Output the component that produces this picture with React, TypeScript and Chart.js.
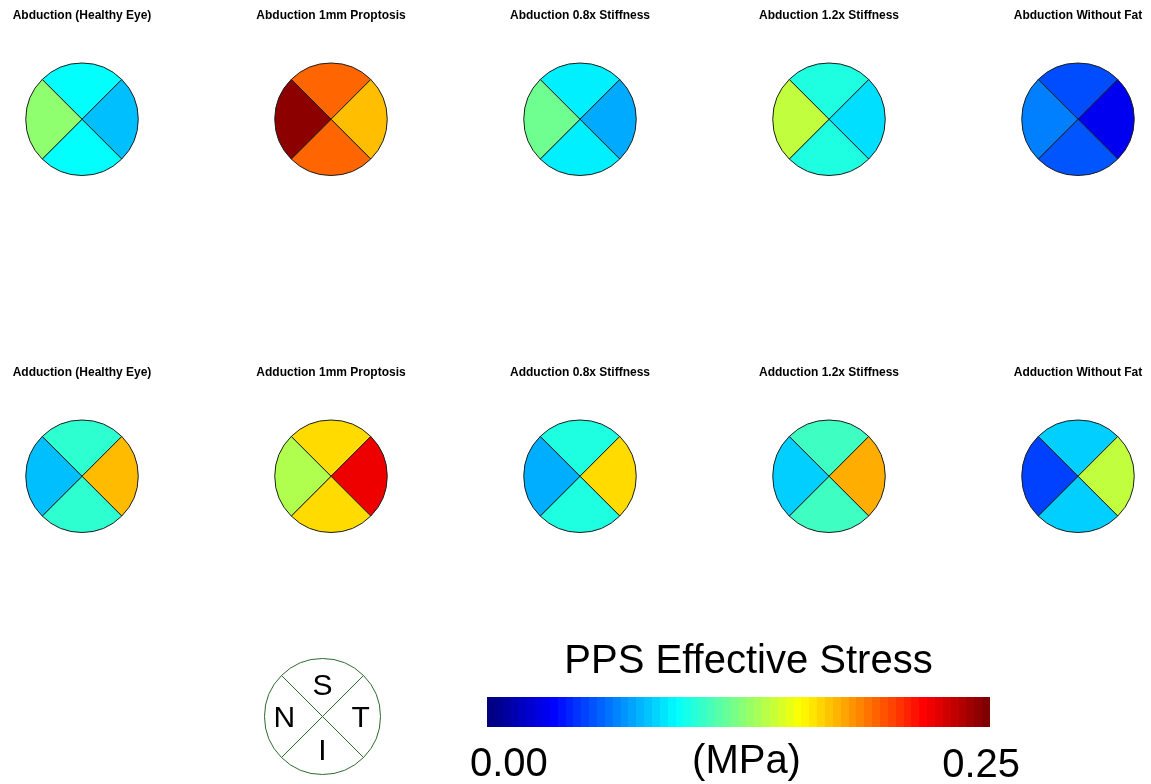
import React, { useEffect, useRef } from 'react';
import { Chart, registerables } from 'chart.js';

Chart.register(...registerables);

const FONT = '"Liberation Sans", Arial, Helvetica, sans-serif';
const STRESS_MIN = 0;
const STRESS_MAX = 0.25;

// Quadrants, clockwise from top: superior, temporal, inferior, nasal
const quadrantLabels = ['S', 'T', 'I', 'N'];
const quadrantShare = [1, 1, 1, 1];

const abductionTitles = [
  'Abduction (Healthy Eye)',
  'Abduction 1mm Proptosis',
  'Abduction 0.8x Stiffness',
  'Abduction 1.2x Stiffness',
  'Abduction Without Fat',
];
const adductionTitles = [
  'Adduction (Healthy Eye)',
  'Adduction 1mm Proptosis',
  'Adduction 0.8x Stiffness',
  'Adduction 1.2x Stiffness',
  'Adduction Without Fat',
];

// PPS effective stress (MPa) per quadrant
const abductionSuperior = [0.094, 0.194, 0.09, 0.101, 0.05];
const abductionTemporal = [0.078, 0.172, 0.073, 0.086, 0.0275];
const abductionInferior = [0.094, 0.194, 0.09, 0.101, 0.052];
const abductionNasal = [0.129, 0.247, 0.121, 0.141, 0.0625];

const adductionSuperior = [0.105, 0.165, 0.101, 0.109, 0.082];
const adductionTemporal = [0.173, 0.223, 0.165, 0.176, 0.141];
const adductionInferior = [0.105, 0.165, 0.101, 0.109, 0.082];
const adductionNasal = [0.078, 0.137, 0.074, 0.082, 0.047];

const colorbarTitle = 'PPS Effective Stress';
const colorbarTickLabels = ['0.00', '(MPa)', '0.25'];
const COLORBAR_LEVELS = 64;

function clamp01(v: number) {
  return Math.max(0, Math.min(1, v));
}
function jet(t: number) {
  const x = clamp01(t);
  const r = clamp01(1.5 - Math.abs(4 * x - 3));
  const g = clamp01(1.5 - Math.abs(4 * x - 2));
  const b = clamp01(1.5 - Math.abs(4 * x - 1));
  return `rgb(${Math.round(r * 255)},${Math.round(g * 255)},${Math.round(b * 255)})`;
}
function stressColor(v: number) {
  return jet((v - STRESS_MIN) / (STRESS_MAX - STRESS_MIN));
}

type BoxProps = { left: number; top: number; width: number; height: number; makeConfig: () => any };

function ChartBox({ left, top, width, height, makeConfig }: BoxProps) {
  const ref = useRef<HTMLCanvasElement>(null);
  useEffect(() => {
    const chart = new Chart(ref.current as HTMLCanvasElement, makeConfig());
    return () => chart.destroy();
  }, []);
  return (
    <canvas
      ref={ref}
      width={width}
      height={height}
      style={{ position: 'absolute', left, top, width, height, display: 'block' }}
    />
  );
}

function pieConfig(title: string, values: number[]) {
  return {
    type: 'pie',
    data: {
      labels: quadrantLabels,
      datasets: [
        {
          data: quadrantShare,
          backgroundColor: values.map(stressColor),
          borderColor: '#1e1e1e',
          borderWidth: 1,
          hoverOffset: 0,
        },
      ],
    },
    options: {
      animation: false,
      responsive: false,
      events: [],
      rotation: -45,
      layout: { padding: 0 },
      plugins: {
        legend: { display: false },
        tooltip: { enabled: false },
        title: {
          display: true,
          text: title,
          color: '#000',
          font: { family: FONT, size: 12, weight: 'bold', lineHeight: 1.2 },
          padding: { top: 8.6, bottom: 39.5 },
        },
      },
    },
  };
}

function legendConfig() {
  return {
    type: 'pie',
    data: {
      labels: quadrantLabels,
      datasets: [
        {
          data: quadrantShare,
          backgroundColor: '#ffffff',
          borderColor: '#2f6a2f',
          borderWidth: 1,
          hoverOffset: 0,
        },
      ],
    },
    options: {
      animation: false,
      responsive: false,
      events: [],
      rotation: -45,
      layout: { padding: 0 },
      plugins: { legend: { display: false }, tooltip: { enabled: false } },
    },
    plugins: [
      {
        id: 'quadrantText',
        afterDatasetsDraw(chart: any) {
          const meta = chart.getDatasetMeta(0);
          const ctx = chart.ctx;
          ctx.save();
          ctx.fillStyle = '#000';
          ctx.font = `30px ${FONT}`;
          ctx.textAlign = 'center';
          ctx.textBaseline = 'alphabetic';
          meta.data.forEach((arc: any, i: number) => {
            const p = arc.getProps(['x', 'y', 'startAngle', 'endAngle', 'outerRadius'], true);
            const mid = (p.startAngle + p.endAngle) / 2;
            const x = p.x + Math.cos(mid) * p.outerRadius * 0.66;
            const y = p.y + Math.sin(mid) * p.outerRadius * 0.56;
            ctx.fillText(quadrantLabels[i], x, y + 30 * 0.716 / 2);
          });
          ctx.restore();
        },
      },
    ],
  };
}

function colorbarConfig() {
  return {
    type: 'bar',
    data: {
      labels: ['stress'],
      datasets: [
        {
          data: [[STRESS_MIN, STRESS_MAX]],
          borderWidth: 0,
          barPercentage: 1,
          categoryPercentage: 1,
          backgroundColor: (c: any) => {
            const area = c.chart.chartArea;
            if (!area) return jet(0.5);
            const g = c.chart.ctx.createLinearGradient(area.left, 0, area.right, 0);
            for (let i = 0; i < COLORBAR_LEVELS; i++) {
              const col = jet(i / (COLORBAR_LEVELS - 1));
              g.addColorStop(i / COLORBAR_LEVELS, col);
              g.addColorStop((i + 1) / COLORBAR_LEVELS, col);
            }
            return g;
          },
        },
      ],
    },
    options: {
      animation: false,
      responsive: false,
      events: [],
      indexAxis: 'y',
      layout: { padding: { left: 47, right: 70, top: 77, bottom: 57 } },
      scales: {
        x: { type: 'linear', min: STRESS_MIN, max: STRESS_MAX, display: false },
        y: { display: false },
      },
      plugins: { legend: { display: false }, tooltip: { enabled: false } },
    },
    plugins: [
      {
        id: 'colorbarText',
        afterDraw(chart: any) {
          const { ctx, chartArea: a } = chart;
          const cx = (a.left + a.right) / 2;
          ctx.save();
          ctx.fillStyle = '#000';
          ctx.font = `40px ${FONT}`;
          ctx.textBaseline = 'alphabetic';
          ctx.textAlign = 'center';
          ctx.fillText(colorbarTitle, cx + 10, a.top - 24);
          ctx.textAlign = 'left';
          ctx.fillText(colorbarTickLabels[0], a.left - 17, a.bottom + 49);
          ctx.textAlign = 'center';
          ctx.fillText(colorbarTickLabels[1], cx + 8, a.bottom + 46);
          ctx.textAlign = 'right';
          ctx.fillText(colorbarTickLabels[2], a.right + 30, a.bottom + 50);
          ctx.restore();
        },
      },
    ],
  };
}

const CELL_CENTERS = [82, 331, 580, 829, 1078];
const CELL_W = 250;
const CELL_H = 176;
const ROW_TOPS = [0, 357];

export default function App() {
  const rows = [
    { top: ROW_TOPS[0], titles: abductionTitles, s: abductionSuperior, t: abductionTemporal, i: abductionInferior, n: abductionNasal },
    { top: ROW_TOPS[1], titles: adductionTitles, s: adductionSuperior, t: adductionTemporal, i: adductionInferior, n: adductionNasal },
  ];
  return (
    <div
      style={{
        position: 'absolute',
        left: 0,
        top: 0,
        width: 1151,
        height: 784,
        overflow: 'hidden',
        background: '#ffffff',
      }}
    >
      {rows.map((row, r) =>
        row.titles.map((title, k) => (
          <ChartBox
            key={`${r}-${k}`}
            left={CELL_CENTERS[k] - CELL_W / 2}
            top={row.top}
            width={CELL_W}
            height={CELL_H}
            makeConfig={() => pieConfig(title, [row.s[k], row.t[k], row.i[k], row.n[k]])}
          />
        ))
      )}
      <ChartBox left={264} top={658} width={117} height={117} makeConfig={legendConfig} />
      <ChartBox left={440} top={620} width={620} height={164} makeConfig={colorbarConfig} />
    </div>
  );
}
